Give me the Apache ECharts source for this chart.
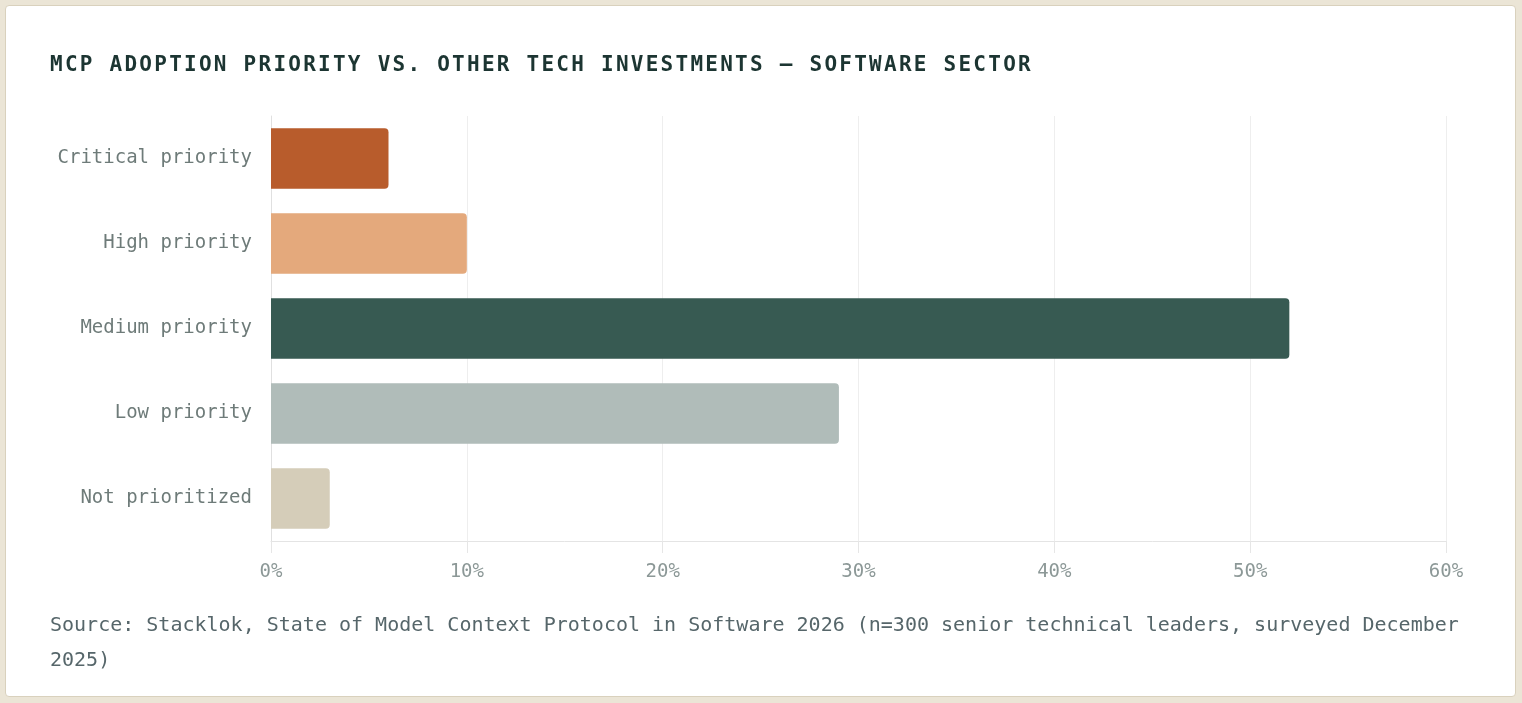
<!DOCTYPE html>
<html>
<head>
<meta charset="utf-8">
<script src="https://cdn.jsdelivr.net/npm/echarts@6/dist/echarts.min.js"></script>
<style>
  html, body { margin: 0; padding: 0; background: #ebe5d6; }
  .card {
    position: absolute; left: 5px; top: 5px; width: 1509px; height: 690px;
    background: #fff; border: 1px solid #d9d1bd; border-radius: 4px;
  }
  .title {
    position: absolute; left: 50px; top: 54px; margin: 0;
    font: bold 21px/21px "DejaVu Sans Mono", monospace;
    letter-spacing: 2.25px; color: #1c3532; white-space: nowrap;
  }
  .source {
    position: absolute; left: 50px; top: 607px; width: 1425px; margin: 0;
    font: 20px/35px "DejaVu Sans Mono", monospace; color: #56666a;
  }
  #chart { position: absolute; left: 0; top: 0; width: 1522px; height: 703px; }
</style>
</head>
<body>
<div class="card"></div>
<div id="chart"></div>
<h2 class="title">MCP ADOPTION PRIORITY VS. OTHER TECH INVESTMENTS — SOFTWARE SECTOR</h2>
<p class="source">Source: Stacklok, State of Model Context Protocol in Software 2026 (n=300 senior technical leaders, surveyed December 2025)</p>
<script>
// survey answers, top to bottom
var categories = ['Critical priority', 'High priority', 'Medium priority', 'Low priority', 'Not prioritized'];
var shares = [6, 10, 52, 29, 3];
var barColors = ['#b85c2c', '#e4a97c', '#375a52', '#b0bcb9', '#d5cdb9'];

var chart = echarts.init(document.getElementById('chart'));

var items = shares.map(function (v, i) {
  return { value: v, itemStyle: { color: barColors[i] } };
});

var option = {
  animation: false,
  grid: { left: 271, right: 76, top: 116, bottom: 162, containLabel: false },
  xAxis: {
    type: 'value',
    min: 0,
    max: 60,
    interval: 10,
    axisLine: { show: true, lineStyle: { color: '#e4e4e4', width: 1 } },
    axisTick: { show: true, length: 12, lineStyle: { color: '#e6e6e6' } },
    splitLine: { show: true, lineStyle: { color: '#eeeeee', width: 1 } },
    axisLabel: {
      formatter: '{value}%',
      margin: 22,
      color: '#8c9897',
      fontFamily: 'DejaVu Sans Mono',
      fontSize: 19
    }
  },
  yAxis: {
    type: 'category',
    data: categories,
    inverse: true,
    axisLine: { show: true, lineStyle: { color: '#e0e0e0' } },
    axisTick: { show: false },
    axisLabel: {
      margin: 19,
      color: '#6e7b79',
      fontFamily: 'DejaVu Sans Mono',
      fontSize: 19
    }
  },
  series: [{
    type: 'bar',
    data: items,
    barCategoryGap: '29%',
    itemStyle: { borderRadius: [0, 4, 4, 0] }
  }]
};

chart.setOption(option);
</script>
</body>
</html>
